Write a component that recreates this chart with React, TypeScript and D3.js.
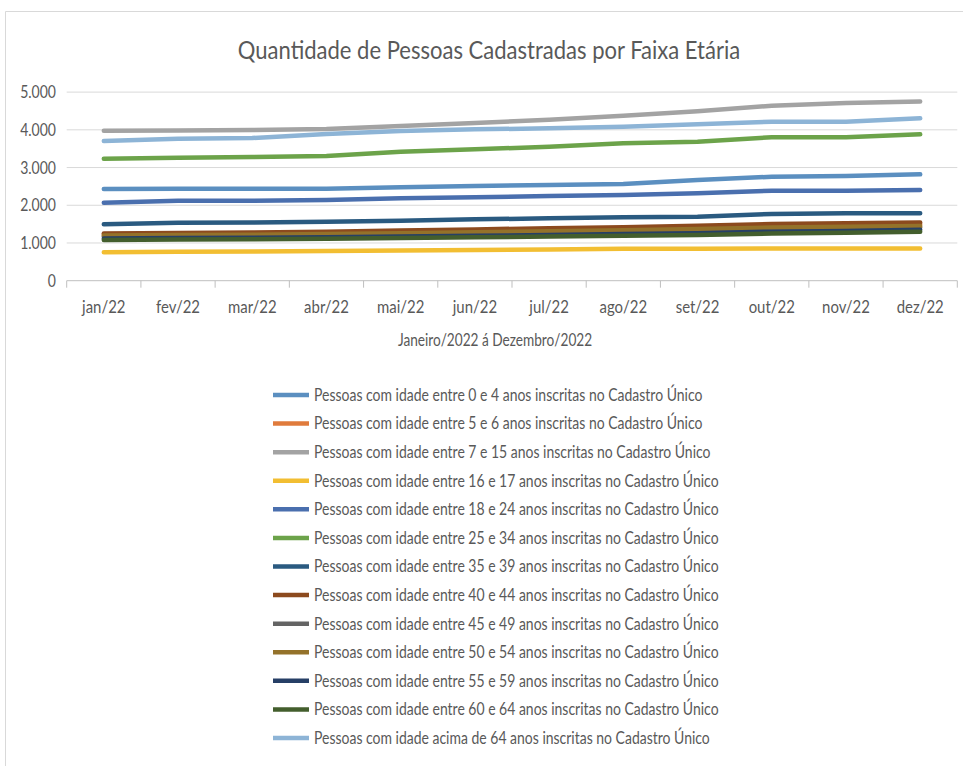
import React from "react";
import * as d3 from "d3";

const months = ["jan/22", "fev/22", "mar/22", "abr/22", "mai/22", "jun/22", "jul/22", "ago/22", "set/22", "out/22", "nov/22", "dez/22"];
const yTicks = [0, 1000, 2000, 3000, 4000, 5000];

const seriesNames = [
  "Pessoas com idade entre 0 e 4 anos inscritas no Cadastro Único",
  "Pessoas com idade entre 5 e 6 anos inscritas no Cadastro Único",
  "Pessoas com idade entre 7 e 15 anos inscritas no Cadastro Único",
  "Pessoas com idade entre 16 e 17 anos inscritas no Cadastro Único",
  "Pessoas com idade entre 18 e 24 anos inscritas no Cadastro Único",
  "Pessoas com idade entre 25 e 34 anos inscritas no Cadastro Único",
  "Pessoas com idade entre 35 e 39 anos inscritas no Cadastro Único",
  "Pessoas com idade entre 40 e 44 anos inscritas no Cadastro Único",
  "Pessoas com idade entre 45 e 49 anos inscritas no Cadastro Único",
  "Pessoas com idade entre 50 e 54 anos inscritas no Cadastro Único",
  "Pessoas com idade entre 55 e 59 anos inscritas no Cadastro Único",
  "Pessoas com idade entre 60 e 64 anos inscritas no Cadastro Único",
  "Pessoas com idade acima de 64 anos inscritas no Cadastro Único",
];

const s0a4 = [2430, 2440, 2440, 2440, 2475, 2510, 2537, 2563, 2670, 2757, 2775, 2820];
const s5a6 = [1230, 1245, 1255, 1275, 1300, 1325, 1350, 1380, 1410, 1450, 1470, 1490];
const s7a15 = [3975, 3985, 3995, 4020, 4100, 4180, 4270, 4370, 4490, 4640, 4710, 4750];
const s16a17 = [755, 770, 775, 790, 800, 815, 830, 845, 850, 855, 855, 855];
const s18a24 = [2068, 2121, 2121, 2139, 2184, 2210, 2245, 2272, 2316, 2386, 2386, 2404];
const s25a34 = [3235, 3262, 3280, 3306, 3421, 3483, 3553, 3642, 3686, 3802, 3802, 3880];
const s35a39 = [1495, 1538, 1540, 1565, 1591, 1627, 1654, 1680, 1697, 1768, 1786, 1786];
const s40a44 = [1250, 1265, 1280, 1300, 1330, 1360, 1390, 1420, 1460, 1500, 1520, 1540];
const s45a49 = [1170, 1180, 1190, 1205, 1225, 1250, 1270, 1300, 1330, 1370, 1390, 1410];
const s50a54 = [1200, 1210, 1220, 1240, 1260, 1285, 1310, 1340, 1370, 1410, 1430, 1450];
const s55a59 = [1120, 1130, 1140, 1150, 1170, 1190, 1210, 1235, 1260, 1300, 1320, 1350];
const s60a64 = [1080, 1090, 1100, 1110, 1130, 1150, 1170, 1190, 1210, 1250, 1270, 1300];
const sAcima64 = [3703, 3765, 3783, 3890, 3969, 4013, 4040, 4083, 4146, 4216, 4216, 4305];

const seriesValues = [s0a4, s5a6, s7a15, s16a17, s18a24, s25a34, s35a39, s40a44, s45a49, s50a54, s55a59, s60a64, sAcima64];
const colors = ["#5B8FC0", "#E07B3C", "#A3A3A3", "#F2BE32", "#4A6FAE", "#6CA34A", "#2A5A80", "#8C4A1E", "#646464", "#94722A", "#263F66", "#435E2D", "#8DB4D6"];

const W = 963;
const H = 766;
const FONT = "Lato, 'Open Sans', sans-serif";
const TXT = "#595959";
const SY = 1.32;

const ptFormat = d3.formatLocale({ decimal: ",", thousands: ".", grouping: [3], currency: ["R$", ""] }).format(",");

export default function App() {
  const x = d3.scaleBand<string>().domain(months).range([66.7, 957.3]);
  const y = d3.scaleLinear().domain([0, 5000]).range([280.7, 92.1]);
  const cx = (m: string) => (x(m) as number) + x.bandwidth() / 2;
  const line = d3
    .line<number>()
    .x((_, i) => cx(months[i]))
    .y((v) => y(v));

  const legendY = d3.scalePoint<number>().domain(d3.range(seriesNames.length)).range([395, 738]);

  const stretched = (tx: number, ty: number, sx: number) => `translate(${tx},${ty}) scale(${sx},${SY})`;

  return (
    <svg width={W} height={H} style={{ position: "absolute", left: 0, top: 0, background: "#fff" }} fontFamily={FONT}>
      <rect x={0} y={0} width={W} height={H} fill="#fff" />
      {/* chart frame */}
      <line x1={5.5} x2={W} y1={11.5} y2={11.5} stroke="#d9d9d9" />
      <line x1={5.5} x2={5.5} y1={11.5} y2={H} stroke="#d9d9d9" />

      {/* title */}
      <text transform={stretched(489, 50, 1.13)} textAnchor="middle" dy="0.35em" fontSize={19.5} fill={TXT}>
        Quantidade de Pessoas Cadastradas por Faixa Etária
      </text>

      {/* gridlines + y labels */}
      {yTicks.map((t) => (
        <g key={t}>
          {t > 0 && <line x1={66.7} x2={957.3} y1={y(t)} y2={y(t)} stroke="#d9d9d9" strokeWidth={1} />}
          <text transform={stretched(56, y(t), 1.08)} textAnchor="end" dy="0.35em" fontSize={13} fill={TXT}>
            {ptFormat(t)}
          </text>
        </g>
      ))}

      {/* x axis */}
      <line x1={66.7} x2={957.3} y1={y(0)} y2={y(0)} stroke="#bfbfbf" />
      {d3.range(months.length + 1).map((i) => {
        const xx = 66.7 + i * x.bandwidth();
        return <line key={i} x1={xx} x2={xx} y1={y(0)} y2={y(0) + 7} stroke="#bfbfbf" />;
      })}
      {months.map((m) => (
        <text key={m} transform={stretched(cx(m), 307, 1.15)} textAnchor="middle" dy="0.35em" fontSize={13} fill={TXT}>
          {m}
        </text>
      ))}
      <text transform={stretched(495, 340, 1.05)} textAnchor="middle" dy="0.35em" fontSize={13} fill={TXT}>
        Janeiro/2022 á Dezembro/2022
      </text>

      {/* series */}
      {seriesValues.map((vals, i) => (
        <path key={i} d={line(vals) as string} fill="none" stroke={colors[i]} strokeWidth={4.5} strokeLinejoin="round" strokeLinecap="round" />
      ))}

      {/* legend */}
      {seriesNames.map((name, i) => {
        const ly = legendY(i) as number;
        return (
          <g key={name}>
            <line x1={273} x2={309} y1={ly} y2={ly} stroke={colors[i]} strokeWidth={4.5} />
            <text transform={stretched(314, ly, 1.11)} dy="0.35em" fontSize={12.6} fill={TXT}>
              {name}
            </text>
          </g>
        );
      })}
    </svg>
  );
}
